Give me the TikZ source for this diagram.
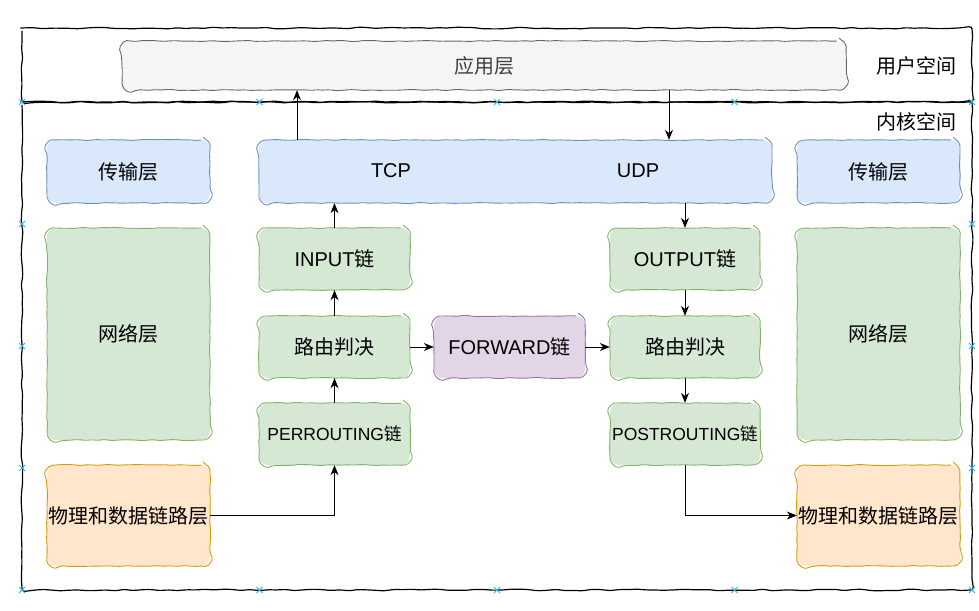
\documentclass[tikz,border=0pt]{standalone}
\usepackage{fontspec}
\setmainfont{Liberation Sans}
\newfontfamily\cjk{Noto Sans CJK SC}
\usepackage{xcolor}
\usetikzlibrary{arrows.meta}
\usetikzlibrary{decorations.pathmorphing}
\definecolor{appfill}{HTML}{F5F5F5}
\definecolor{appline}{HTML}{666666}
\definecolor{bluefill}{HTML}{DAE8FC}
\definecolor{blueline}{HTML}{6C8EBF}
\definecolor{greenfill}{HTML}{D5E8D4}
\definecolor{greenline}{HTML}{82B366}
\definecolor{purplefill}{HTML}{E1D5E7}
\definecolor{purpleline}{HTML}{9673A6}
\definecolor{orangefill}{HTML}{FFE6CC}
\definecolor{orangeline}{HTML}{D79B00}
\definecolor{markcolor}{HTML}{29B6F2}
\begin{document}
\begin{tikzpicture}[x=1pt,y=-1pt,
   every node/.style={font=\fontsize{20}{24}\selectfont},
   sketch/.style={decorate,decoration={random steps,segment length=9pt,amplitude=0.9pt},rounded corners=3pt},
   box/.style={rounded corners=9pt,inner sep=0pt,
      postaction={draw=#1,line width=0.9pt,rounded corners=2pt,decorate,
                  decoration={random steps,segment length=6pt,amplitude=0.6pt}}},
   appbox/.style={box=appline,fill=appfill,text=black!75},
   bluebox/.style={box=blueline,fill=bluefill},
   greenbox/.style={box=greenline,fill=greenfill},
   purplebox/.style={box=purpleline,fill=purplefill},
   orangebox/.style={box=orangeline,fill=orangefill},
   layer/.style={minimum width=163pt},
   chain/.style={minimum width=151pt,minimum height=62pt},
   small/.style={font=\fontsize{17.5}{21}\selectfont},
   arrow/.style={line width=0.8pt,-{Stealth[length=10pt,width=8pt]}},
   xmark/.style={markcolor,line width=0.8pt}]
\useasboundingbox (0,0) rectangle (979,610);
%% user space and kernel space
\draw[sketch,line width=1.2pt] (22,28) rectangle (972,102);
\draw[sketch,line width=1.2pt] (22,102) rectangle (972,590);
\node (user) at (916,66) {{\cjk 用户空间}};
\node (kernel) at (916,122) {{\cjk 内核空间}};
\node[appbox,minimum width=724pt,minimum height=49pt] (app) at (484,65.5) {{\cjk 应用层}};
%% left and right stacks
\node[bluebox,layer,minimum height=63pt] (transL) at (128.5,171.5) {{\cjk 传输层}};
\node[bluebox,layer,minimum height=63pt] (transR) at (878.5,171.5) {{\cjk 传输层}};
\node[greenbox,layer,minimum height=212pt] (netL) at (128.5,334) {{\cjk 网络层}};
\node[greenbox,layer,minimum height=212pt] (netR) at (878.5,334) {{\cjk 网络层}};
\node[orangebox,layer,minimum height=101pt] (phyL) at (128.5,515.5) {{\cjk 物理和数据链路层}};
\node[orangebox,layer,minimum height=101pt] (phyR) at (878.5,515.5) {{\cjk 物理和数据链路层}};
%% transport layer of the middle
\node[bluebox,minimum width=513pt,minimum height=63pt] (tcpudp) at (515.5,171.5) {};
\node (tcp) at (391,171) {TCP};
\node (udp) at (638,171) {UDP};
%% chains
\node[greenbox,chain] (input) at (334.5,259) {INPUT{\cjk 链}};
\node[greenbox,chain] (routeL) at (334.5,347) {{\cjk 路由判决}};
\node[greenbox,chain,small] (pre) at (334.5,434) {PERROUTING{\cjk 链}};
\node[purplebox,chain] (fwd) at (509.5,347) {FORWARD{\cjk 链}};
\node[greenbox,chain,minimum width=150pt] (output) at (685,259) {OUTPUT{\cjk 链}};
\node[greenbox,chain,minimum width=150pt] (routeR) at (685,347) {{\cjk 路由判决}};
\node[greenbox,chain,minimum width=150pt,small] (post) at (685,434) {POSTROUTING{\cjk 链}};
%% connectors
\coordinate (upx) at (297,0);
\coordinate (downx) at (669,0);
\draw[arrow] (tcpudp.north -| upx) -- (app.south -| upx);
\draw[arrow] (app.south -| downx) -- (tcpudp.north -| downx);
\draw[arrow] (input.north) -- (tcpudp.south -| input.north);
\draw[arrow] (tcpudp.south -| output.north) -- (output.north);
\draw[arrow] (routeL) -- (input);
\draw[arrow] (pre) -- (routeL);
\draw[arrow] (phyL.east) -| (pre.south);
\draw[arrow] (routeL) -- (fwd);
\draw[arrow] (fwd) -- (routeR);
\draw[arrow] (output) -- (routeR);
\draw[arrow] (routeR) -- (post);
\draw[arrow] (post.south) |- (phyR.west);
%% connection marks
\foreach \mx in {22,259.5,497,734.5,972}
   {\draw[xmark] (\mx,102) +(-3,-3) -- +(3,3) +(-3,3) -- +(3,-3);
    \draw[xmark] (\mx,590) +(-3,-3) -- +(3,3) +(-3,3) -- +(3,-3);}
\foreach \my in {224,346,468}
   {\draw[xmark] (22,\my) +(-3,-3) -- +(3,3) +(-3,3) -- +(3,-3);
    \draw[xmark] (972,\my) +(-3,-3) -- +(3,3) +(-3,3) -- +(3,-3);}
\end{tikzpicture}
\end{document}
